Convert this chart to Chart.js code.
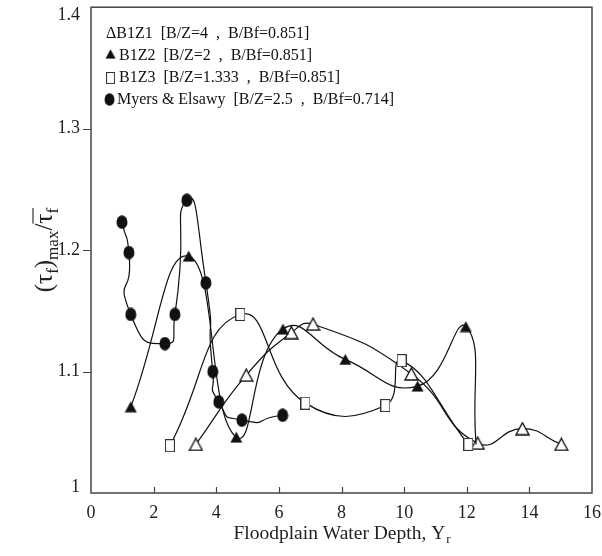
<!DOCTYPE html>
<html>
<head>
<meta charset="utf-8">
<script src="https://cdn.jsdelivr.net/npm/chart.js@4/dist/chart.umd.min.js"></script>
<style>
html,body{margin:0;padding:0;background:#fff}
#caja{width:602px;height:556px}
</style>
</head>
<body>
<div id="caja"><canvas id="grafica"></canvas></div>
<script>
// valores
var xB1Z1 = [3.35, 4.96, 6.40, 7.09, 10.23, 12.35, 13.78, 15.02];
var yB1Z1 = [1.040, 1.097, 1.132, 1.139, 1.098, 1.041, 1.053, 1.040];
var xB1Z2 = [1.27, 3.12, 4.64, 6.13, 8.12, 10.43, 11.97, 12.30];
var yB1Z2 = [1.071, 1.195, 1.046, 1.135, 1.110, 1.088, 1.137, 1.040];
var xB1Z3 = [2.52, 4.77, 6.85, 9.40, 9.92, 12.05];
var yB1Z3 = [1.039, 1.147, 1.074, 1.072, 1.109, 1.040];
var xMyers = [0.99, 1.21, 1.27, 2.36, 2.68, 3.06, 3.67, 3.89, 4.08, 4.82, 6.12];
var yMyers = [1.223, 1.198, 1.147, 1.123, 1.147, 1.241, 1.173, 1.100, 1.075, 1.060, 1.064];
var xTicks = [0, 2, 4, 6, 8, 10, 12, 14, 16];
var yTicks = [1, 1.1, 1.2, 1.3, 1.4];
var leyendas = [
    'B1Z1  [B/Z=4  ,  B/Bf=0.851]',
    'B1Z2  [B/Z=2  ,  B/Bf=0.851]',
    'B1Z3  [B/Z=1.333  ,  B/Bf=0.851]',
    'Myers & Elsawy  [B/Z=2.5  ,  B/Bf=0.714]'
];

var serif = '"Liberation Serif", "DejaVu Serif", serif';

function puntos(xs, ys){
    return xs.map(function(x, i){ return {x: x, y: ys[i]}; });
}

// marcadores como imagenes
function marcador(tipo){
    var c = document.createElement('canvas');
    var g = c.getContext('2d');
    if (tipo == 'triLleno') {
        c.width = 13; c.height = 12;
        g.beginPath(); g.moveTo(6.5, 0.5); g.lineTo(12.5, 11.5); g.lineTo(0.5, 11.5); g.closePath();
        g.fillStyle = '#111'; g.fill();
    } else if (tipo == 'triVacio') {
        c.width = 15; c.height = 14;
        g.beginPath(); g.moveTo(7.5, 1); g.lineTo(14, 13); g.lineTo(1, 13); g.closePath();
        g.fillStyle = '#fff'; g.fill();
        g.lineWidth = 1.4; g.strokeStyle = '#111'; g.stroke();
    } else if (tipo == 'rect') {
        c.width = 10; c.height = 13;
        g.fillStyle = '#fff'; g.fillRect(0.5, 0.5, 9, 12);
        g.lineWidth = 1.1; g.strokeStyle = '#333'; g.strokeRect(0.5, 0.5, 9, 12);
    } else {
        c.width = 12; c.height = 14;
        g.beginPath(); g.ellipse(6, 7, 5.5, 6.8, 0, 0, Math.PI * 2);
        g.fillStyle = '#111'; g.fill();
    }
    return c;
}

var imgTriVacio = marcador('triVacio');
var imgTriLleno = marcador('triLleno');
var imgRect = marcador('rect');
var imgCirculo = marcador('circulo');

function serie(xs, ys, img, ocultarUltimo, tension){
    return {
        data: puntos(xs, ys),
        showLine: true,
        tension: tension,
        borderColor: '#111',
        borderWidth: 1.2,
        pointStyle: function(ctx){ return (ocultarUltimo && ctx.dataIndex == xs.length - 1) ? false : img; },
        pointRadius: 6,
        backgroundColor: '#111'
    };
}

// ejes, rótulos, marco y leyenda
var dibujoExtra = {
    id: 'dibujoExtra',
    afterDraw: function(chart){
        var g = chart.ctx, a = chart.chartArea;
        var sx = chart.scales.x, sy = chart.scales.y;
        g.save();
        g.strokeStyle = '#444';
        g.lineWidth = 1.5;
        g.strokeRect(a.left, a.top, a.right - a.left, a.bottom - a.top);
        g.lineWidth = 1.2;
        g.beginPath();
        xTicks.forEach(function(v){
            if (v == xTicks[0] || v == xTicks[xTicks.length - 1]) return;
            var px = Math.round(sx.getPixelForValue(v)) + 0.5;
            g.moveTo(px, a.bottom); g.lineTo(px, a.bottom - 6);
        });
        yTicks.forEach(function(v){
            if (v == yTicks[0] || v == yTicks[yTicks.length - 1]) return;
            var py = Math.round(sy.getPixelForValue(v)) + 0.5;
            g.moveTo(a.left, py); g.lineTo(a.left - 8, py);
        });
        g.stroke();

        g.fillStyle = '#222';
        g.font = '18px ' + serif;
        g.textAlign = 'right';
        g.textBaseline = 'middle';
        yTicks.forEach(function(v){
            var py = sy.getPixelForValue(v);
            py = Math.min(Math.max(py, a.top + 8), a.bottom - 6);
            g.fillText(String(Number(v.toFixed(1))), a.left - 11, py);
        });

        // título eje x
        var t1 = 'Floodplain Water Depth, Y';
        g.font = '19.5px ' + serif;
        var w1 = g.measureText(t1).width;
        g.font = '13px ' + serif;
        var w2 = g.measureText('r').width;
        var x0 = (a.left + a.right) / 2 - (w1 + w2) / 2;
        g.textAlign = 'left';
        g.textBaseline = 'alphabetic';
        g.font = '19.5px ' + serif;
        g.fillText(t1, x0, 539);
        g.font = '13px ' + serif;
        g.fillText('r', x0 + w1 + 1, 543);

        // título eje y
        var piezas = [
            ['(\u03c4', 25, 0], ['f', 17, 6], [')', 25, 0], ['max', 17, 6],
            ['/', 25, 0], ['\u03c4', 25, 0], ['f', 17, 6]
        ];
        var ancho = 0;
        piezas.forEach(function(p){ g.font = p[1] + 'px ' + serif; p.push(g.measureText(p[0]).width); ancho += p[3]; });
        g.translate(52, (a.top + a.bottom) / 2);
        g.rotate(-Math.PI / 2);
        var cx = -ancho / 2, inicioBarra = 0;
        piezas.forEach(function(p, i){
            g.font = p[1] + 'px ' + serif;
            if (i == 5) inicioBarra = cx;
            g.fillText(p[0], cx, p[2]);
            cx += p[3];
        });
        g.beginPath();
        g.lineWidth = 1.1;
        g.strokeStyle = '#222';
        g.moveTo(inicioBarra, -19); g.lineTo(cx, -19);
        g.stroke();
        g.setTransform(1, 0, 0, 1, 0, 0);

        // leyenda
        g.font = '16px ' + serif;
        g.textBaseline = 'middle';
        g.fillStyle = '#111';
        var filas = [34, 56, 78, 100];
        g.fillText('\u0394' + leyendas[0], 106, filas[0]);
        g.drawImage(imgTriLleno, 105, filas[1] - 7, 11, 10);
        g.fillText(leyendas[1], 119, filas[1]);
        g.drawImage(imgRect, 106, filas[2] - 6, 9, 12);
        g.fillText(leyendas[2], 119, filas[2]);
        g.drawImage(imgCirculo, 104, filas[3] - 7, 11, 13);
        g.fillText(leyendas[3], 117, filas[3]);
        g.restore();
    }
};

var grafica = new Chart(document.getElementById('grafica').getContext('2d'), {
    type: 'scatter',
    data: {
        datasets: [
            serie(xB1Z3, yB1Z3, imgRect, false, 0.5),
            serie(xMyers, yMyers, imgCirculo, false, 0.8),
            serie(xB1Z2, yB1Z2, imgTriLleno, true, 0.5),
            serie(xB1Z1, yB1Z1, imgTriVacio, false, 0.5)
        ]
    },
    options: {
        responsive: true,
        maintainAspectRatio: false,
        animation: false,
        layout: {padding: {left: 0, top: 4, right: 0, bottom: 0}},
        plugins: {legend: {display: false}, tooltip: {enabled: false}},
        scales: {
            x: {
                type: 'linear', min: 0, max: 16,
                grid: {display: false},
                border: {display: false},
                afterBuildTicks: function(s){ s.ticks = xTicks.map(function(v){ return {value: v}; }); },
                afterFit: function(s){ s.height = 63; },
                ticks: {color: '#222', padding: 1, maxRotation: 0, autoSkip: false, font: {family: serif, size: 18}}
            },
            y: {
                type: 'linear', min: 1, max: 1.4,
                grid: {display: false},
                border: {display: false},
                afterFit: function(s){ s.width = 91; },
                ticks: {display: false, stepSize: 0.1}
            }
        }
    },
    plugins: [dibujoExtra]
});
</script>
</body>
</html>
